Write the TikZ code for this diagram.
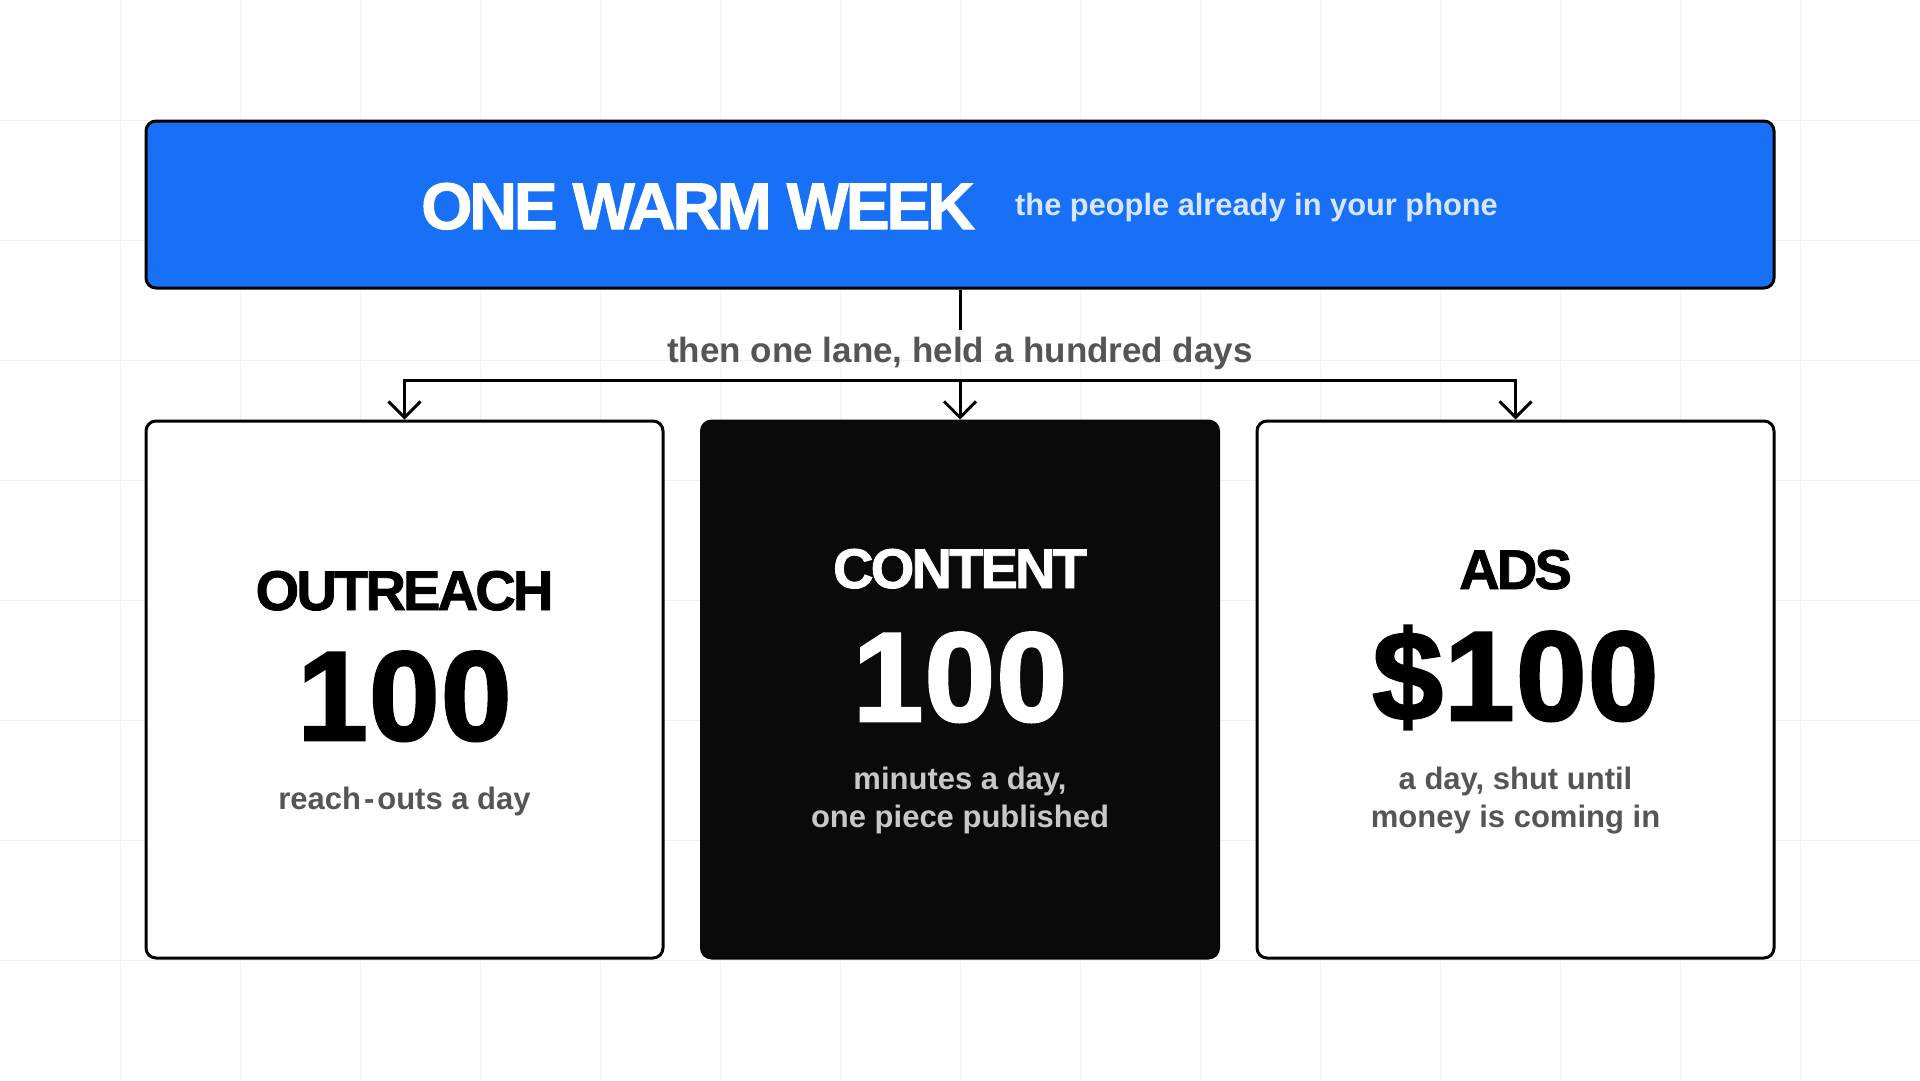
\documentclass[tikz,border=0pt]{standalone}
\usepackage{fontspec}
\setmainfont{Liberation Sans}
\newfontfamily\heavyfont{Liberation Sans Bold}[FakeBold=1.5, LetterSpace=-5]
\newfontfamily\countfont{Liberation Sans Bold}[FakeBold=2, LetterSpace=1]
\usetikzlibrary{arrows.meta,positioning}
\definecolor{weekblue}{HTML}{1870F6}
\definecolor{weeksub}{HTML}{D6E6FF}
\definecolor{notegray}{HTML}{555555}
\definecolor{darknote}{HTML}{C8C8C8}
\definecolor{lanedark}{HTML}{0A0A0A}
\definecolor{gridline}{HTML}{F2F2F2}

\begin{document}
\begin{tikzpicture}[x=1pt,y=-1pt,
        lane/.style={draw=black, fill=white, line width=3pt, rounded corners=10pt, minimum width=517pt, minimum height=537pt, inner sep=0pt},
        wire/.style={line width=3pt},
        lanetitle/.style={font=\heavyfont\fontsize{56}{56}\selectfont, anchor=base},
        count/.style={font=\countfont\fontsize{127}{127}\selectfont, anchor=base},
        note/.style={font=\bfseries\fontsize{31}{38}\selectfont, text=notegray, align=center, anchor=base}]
                \useasboundingbox (0,0) rectangle (1920,1080);
                \fill[white] (0,0) rectangle (1920,1080);
                % faint grid
                \foreach \x in {120,240,...,1800} {
                        \draw[gridline, line width=1pt] (\x,0) -- (\x,1080);
                    }
                \foreach \y in {120,240,...,960} {
                        \draw[gridline, line width=1pt] (0,\y) -- (1920,\y);
                    }
                \node[draw=black, fill=weekblue, line width=3pt, rounded corners=10pt, minimum width=1628pt, minimum height=167pt] (week) at (960,204.5) {};
                \node[font=\heavyfont\fontsize{66}{66}\selectfont, text=white, anchor=base] (weektitle) at (698,229) {ONE WARM WEEK};
                \node[font=\bfseries\fontsize{30.8}{30.8}\selectfont, text=weeksub, anchor=base west, inner sep=0pt] (weeksub) at (1015,215) {the people already in your phone};
                \node[lane] (outreach) at (404.5,689.5) {};
                \node[lane, fill=lanedark, draw=lanedark] (content) at (960,689.5) {};
                \node[lane] (ads) at (1515.5,689.5) {};
                % lane texts
                \node[lanetitle] (outreachtitle) at (404.5,610) {OUTREACH};
                \node[count] (outreachcount) at (404.5,740) {100};
                \node[note] (outreachnote) at (404.5,809) {reach\kern3pt-\kern3pt outs a day};
                \node[lanetitle, text=white] (contenttitle) at (960,588) {CONTENT};
                \node[count, text=white] (contentcount) at (960,721) {100};
                \node[note, text=darknote] (contentnote) at (960,827) {minutes a day,\\one piece published};
                \node[lanetitle] (adstitle) at (1515.5,589) {ADS};
                \node[count] (adscount) at (1515.5,720) {\$100};
                \node[note] (adsnote) at (1515.5,827) {a day, shut until\\money is coming in};
                % connectors
                \coordinate (stem) at (960,330);
                \coordinate (hub) at (960,380);
                \node[font=\bfseries\fontsize{35}{35}\selectfont, text=notegray, anchor=base] (lanelabel) at (960,362) {then one lane, held a hundred days};
                \draw[wire] (week.south) -- (stem);
                \draw[wire, line cap=rect] (hub -| outreach.north) -- (hub -| ads.north);
                \foreach \n in {outreach,content,ads} {
                        \draw[wire, -{Straight Barb[length=16pt,width=32pt]}] (hub -| \n.north) -- (\n.north);
                    }
            \end{tikzpicture}
\end{document}
